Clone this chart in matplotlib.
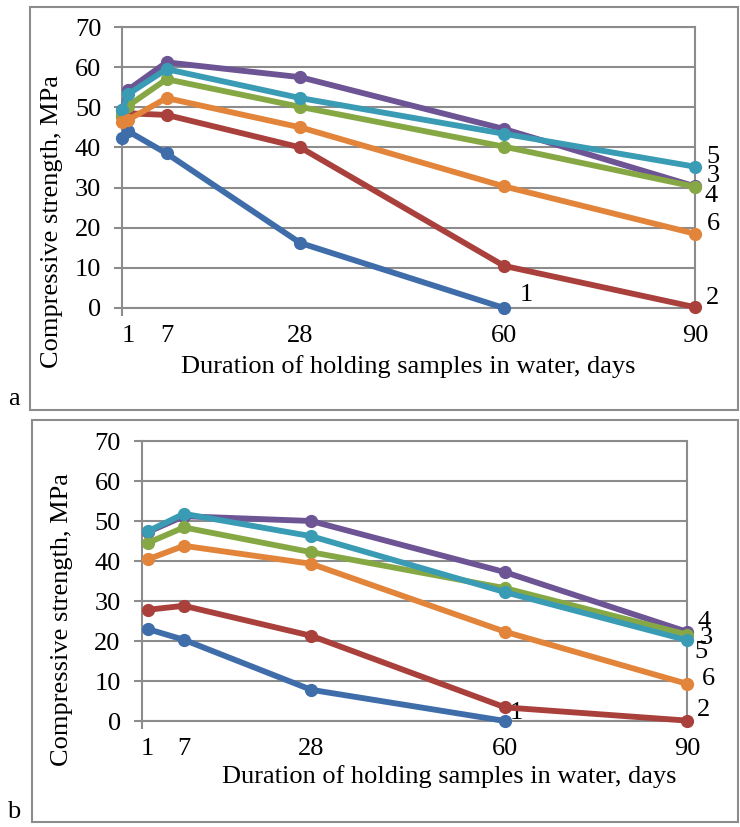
import matplotlib
matplotlib.use("Agg")
import matplotlib.pyplot as plt
from matplotlib.patches import Rectangle

plt.rcParams['font.family'] = ['Liberation Serif', 'DejaVu Serif']

# ---------------- data ----------------
tick_days = [1, 7, 28, 60, 90]
tick_labels = ["1", "7", "28", "60", "90"]
yticks = [0, 10, 20, 30, 40, 50, 60, 70]

# panel a (days 0, 1, 7, 28, 60, 90)
days_a = [0, 1, 7, 28, 60, 90]
a_s1 = [42.3, 44.0, 38.5, 16.2, 0.0]          # ends at 60 days
a_s2 = [47.8, 48.5, 48.1, 40.0, 10.5, 0.2]
a_s3 = [49.4, 54.4, 61.2, 57.5, 44.6, 30.3]
a_s4 = [48.1, 50.4, 57.0, 50.1, 40.2, 30.2]
a_s5 = [49.4, 53.3, 59.5, 52.3, 43.4, 35.2]
a_s6 = [46.3, 46.9, 52.3, 45.0, 30.3, 18.5]

# panel b (days 1, 7, 28, 60, 90)
days_b = [1, 7, 28, 60, 90]
b_s1 = [23.0, 20.3, 7.8, 0.0]                  # ends at 60 days
b_s2 = [27.8, 28.8, 21.3, 3.4, 0.1]
b_s3 = [47.2, 51.2, 50.0, 37.2, 22.3]
b_s4 = [44.5, 48.4, 42.2, 33.2, 21.6]
b_s5 = [47.4, 51.8, 46.2, 32.2, 20.2]
b_s6 = [40.4, 43.8, 39.3, 22.3, 9.3]

series_names = ["1", "2", "3", "4", "5", "6"]
colors = ["#3E6DA9", "#A9403C", "#6D5494", "#86A844", "#3A9BB4", "#E2843A"]
draw_order = [0, 1, 5, 3, 2, 4]

# label positions (data coords) for series numbers
lab_a = {"1": (63.5, 3.2), "2": (92.8, 2.5), "3": (92.8, 32.9),
         "4": (92.6, 27.9), "5": (92.8, 37.7), "6": (92.9, 20.9)}
lab_b = {"1": (61.9, 1.9), "2": (92.8, 2.8), "3": (93.1, 20.8),
         "4": (92.8, 24.8), "5": (92.3, 17.3), "6": (93.5, 10.6)}

grid_c = "#8C8C8C"
FS = 19

fig = plt.figure(figsize=(7.4, 8.27), dpi=100)

# outer boxes
fig.add_artist(Rectangle((30/740, 1-410/827), 708/740, 403/827,
                         transform=fig.transFigure, fill=False,
                         edgecolor="#8C8C8C", lw=1.5))
fig.add_artist(Rectangle((32/740, 1-822/827), 706/740, 402/827,
                         transform=fig.transFigure, fill=False,
                         edgecolor="#8C8C8C", lw=1.5))


def make_panel(rect, days, series, labpos):
    ax = fig.add_axes(rect)
    ax.set_xlim(0, 90)
    ax.set_ylim(0, 70)
    ax.set_yticks(yticks)
    ax.set_xticks(tick_days)
    ax.set_xticklabels(tick_labels)
    ax.set_xticks([0, 90], minor=True)
    ax.tick_params(axis="x", which="major", length=0, pad=12, labelsize=FS)
    ax.tick_params(axis="x", which="minor", length=6, width=1.5, color=grid_c,
                   direction="out")
    ax.tick_params(axis="y", length=6, width=1.5, color=grid_c, pad=9,
                   labelsize=FS)
    ax.yaxis.grid(True, color=grid_c, lw=1.5)
    ax.set_axisbelow(True)
    for sp in ax.spines.values():
        sp.set_color(grid_c)
        sp.set_linewidth(1.5)
    for i in draw_order:
        vals = series[i]
        ax.plot(days[:len(vals)], vals, color=colors[i], lw=4.2,
                marker="o", ms=8.5, clip_on=False, zorder=3 + i * 0.1)
    for name, (x, y) in labpos.items():
        ax.text(x, y, name, fontsize=FS, ha="center", va="center",
                clip_on=False)
    return ax


ax_a = make_panel([122/740, 1-308/827, 573/740, 281/827], days_a,
                  [a_s1, a_s2, a_s3, a_s4, a_s5, a_s6], lab_a)
ax_b = make_panel([141.5/740, 1-721/827, 545.5/740, 280/827], days_b,
                  [b_s1, b_s2, b_s3, b_s4, b_s5, b_s6], lab_b)

# axis titles
fig.text(408/740, 1-367/827, "Duration of holding samples in water, days",
         fontsize=FS, ha="center", va="center")
fig.text(449/740, 1-777/827, "Duration of holding samples in water, days",
         fontsize=FS, ha="center", va="center")
fig.text(52/740, 1-222/827, "Compressive strength, MPa", fontsize=FS,
         rotation=90, ha="center", va="center")
fig.text(62/740, 1-620/827, "Compressive strength, MPa", fontsize=FS,
         rotation=90, ha="center", va="center")

fig.text(14/740, 1-405/827, "a", fontsize=FS, ha="center", va="baseline")
fig.text(14/740, 1-818/827, "b", fontsize=FS, ha="center", va="baseline")

fig.savefig("out.png", dpi=100)
